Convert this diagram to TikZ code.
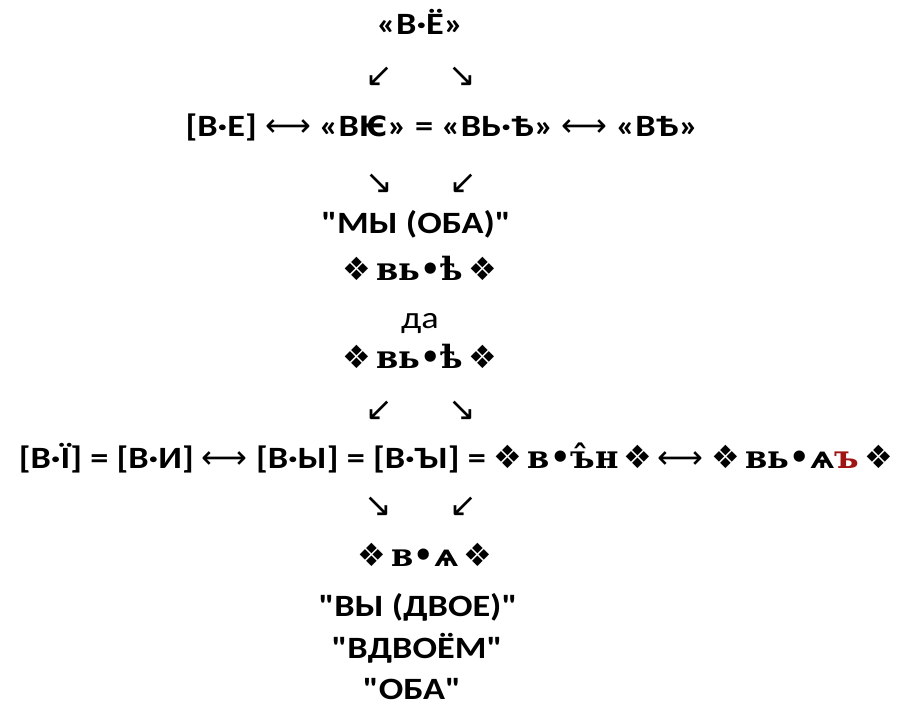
\documentclass[tikz,border=0pt]{standalone}
\usepackage{fontspec}
\newfontfamily\mainf{Carlito}[FakeStretch=1.17]
\newfontfamily\dvs{DejaVu Sans}
\newfontfamily\dvserif{DejaVu Serif}
\definecolor{csred}{RGB}{160,20,20}
\newcommand\orn{{\dvs\mdseries\fontsize{32}{34}\selectfont ❖}}
\newcommand\lrarr{{\dvs\mdseries\fontsize{32}{34}\selectfont ⟷}}
\newcommand\cs[1]{{\dvserif\bfseries\fontsize{32}{34}\selectfont #1}}
\newcommand\csy{{\dvs\bfseries\fontsize{30}{32}\selectfont ѧ}}
\newcommand\iote{{\dvs\bfseries\fontsize{28}{30}\selectfont Ѥ}}
\begin{document}
\begin{tikzpicture}[x=1pt,y=-1pt,
  txt/.style={inner sep=0pt, anchor=base, font=\mainf\fontsize{31}{33}\selectfont\bfseries},
  arr/.style={inner sep=0pt, anchor=center, font=\dvs\fontsize{33}{35}\selectfont}]
\useasboundingbox (0,0) rectangle (913,706);
\node[txt] (r1) at (420,35) {«В·Ё»};
\node[arr] (a1l) at (379,77) {↙};
\node[arr] (a1r) at (462,77) {↘};
\node[txt] (r2) at (442,137) {[В·Е] \lrarr\ «В\iote» = «ВЬ·Ѣ» \lrarr\ «ВѢ»};
\node[arr] (a2l) at (379,184) {↘};
\node[arr] (a2r) at (463,184) {↙};
\node[txt] (r3) at (416,233) {"МЫ (ОБА)"};
\node[txt] (r4) at (420,280) {\orn\,\cs{вь•ѣ}\,\orn};
\node[txt, font=\mainf\fontsize{31}{33}\selectfont] (r5) at (420,328) {да};
\node[txt] (r6) at (420,368) {\orn\,\cs{вь•ѣ}\,\orn};
\node[arr] (a3l) at (379,411) {↙};
\node[arr] (a3r) at (462,411) {↘};
\node[txt] (r7) at (456,468) {[В·Ї] = [В·И] \lrarr\ [В·Ы] = [В·ЪІ] = \orn\,\cs{в•ъ̂н}\,\orn\,\lrarr\ \orn\,\cs{вь•}\csy\cs{\textcolor{csred}{ъ}}\,\orn};
\node[arr] (a4l) at (378,507) {↘};
\node[arr] (a4r) at (463,507) {↙};
\node[txt] (r8) at (425,566) {\orn\,\cs{в•}\csy\,\orn};
\node[txt] (r9) at (418,616) {"ВЫ (ДВОЕ)"};
\node[txt] (r10) at (417,658) {"ВДВОЁМ"};
\node[txt] (r11) at (412,699) {"ОБА"};
\end{tikzpicture}
\end{document}
